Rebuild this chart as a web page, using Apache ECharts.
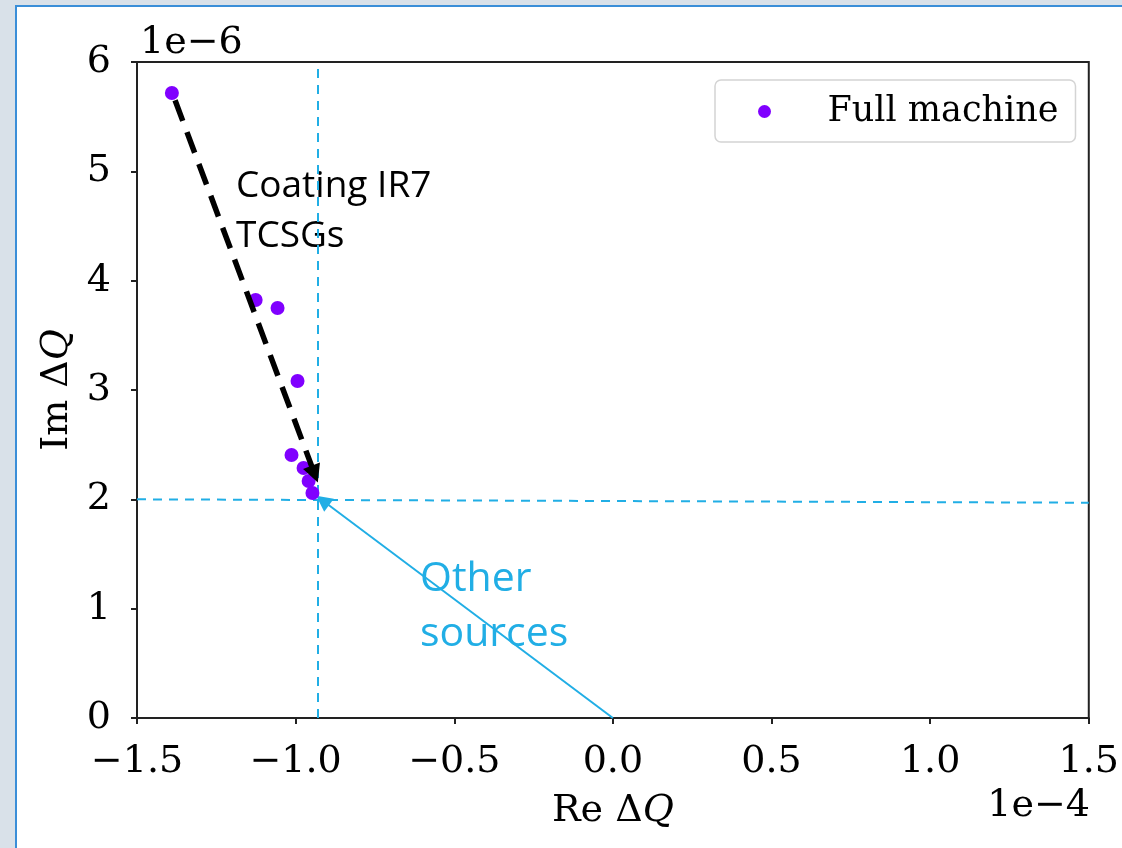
<!DOCTYPE html>
<html>
<head>
<meta charset="utf-8">
<script src="https://cdn.jsdelivr.net/npm/echarts@6/dist/echarts.min.js"></script>
<style>
  html, body { margin: 0; padding: 0; width: 1122px; height: 848px; overflow: hidden; background: #d9e1e9; }
  #panel { position: absolute; left: 15px; top: 5px; right: 0; bottom: 0; background: #ffffff;
           border-left: 2px solid #3a8ed8; border-top: 2px solid #3a8ed8; }
  #chart { position: absolute; left: 0; top: 0; width: 1122px; height: 848px; }
</style>
</head>
<body>
<div id="panel"></div>
<div id="chart"></div>
<script>
// Tune shift of the full machine, Re in units of 1e-4, Im in units of 1e-6
const reDQ = [-1.390, -1.126, -1.057, -0.994, -1.013, -0.975, -0.959, -0.947];
const imDQ = [5.717, 3.823, 3.750, 3.082, 2.406, 2.287, 2.168, 2.058];

// Axis ranges and ticks
const xRange = [-1.5, 1.5], xStep = 0.5;
const yRange = [0, 6], yStep = 1;

// Reference level of the other impedance sources
const otherRe = -0.93;
const otherImLeft = 2.0, otherImRight = 1.969;

// Arrows: coating contribution and other sources
const coatingArrow = [[-1.380, 5.65], [-0.940, 2.23]];
const otherArrow = [[0.0, 0.0], [-0.915, 1.99]];

const serif = 'DejaVu Serif';
const fs = 38;
const blue = '#21aee5';
const purple = '#8000ff';
const fmt = v => v.toFixed(1).replace('-', '\u2212');

const chart = echarts.init(document.getElementById('chart'), null, { renderer: 'canvas' });

const axisName = {
  rich: {
    a: { fontFamily: serif, fontSize: fs, color: '#000' },
    b: { fontFamily: serif, fontSize: fs, color: '#000', fontStyle: 'italic' }
  }
};

chart.setOption({
  animation: false,
  backgroundColor: 'transparent',
  grid: { left: 137, right: 31, top: 62, bottom: 130, show: true, borderColor: '#222', borderWidth: 2, backgroundColor: 'transparent' },
  legend: {
    left: 715, top: 80,
    padding: [14, 17, 13, 43],
    backgroundColor: '#fff',
    borderColor: '#d4d4d4', borderWidth: 1.5, borderRadius: 6,
    icon: 'circle', itemWidth: 84, itemHeight: 13,
    itemStyle: { color: purple, opacity: 1 },
    textStyle: { fontFamily: serif, fontSize: 35, color: '#000', padding: [0, 0, 0, 16] },
    data: ['Full machine']
  },
  xAxis: {
    type: 'value', min: xRange[0], max: xRange[1], interval: xStep,
    name: '{a|Re \u0394}{b|Q}', nameLocation: 'middle', nameGap: 74,
    nameTextStyle: axisName,
    axisLine: { onZero: false, lineStyle: { color: '#222', width: 2 } },
    axisTick: { show: true, inside: false, length: 6, lineStyle: { color: '#222', width: 2 } },
    axisLabel: { formatter: fmt, fontFamily: serif, fontSize: fs, color: '#000', margin: 25 },
    splitLine: { show: false }
  },
  yAxis: {
    type: 'value', min: yRange[0], max: yRange[1], interval: yStep,
    name: '{a|Im \u0394}{b|Q}', nameLocation: 'middle', nameGap: 61, nameRotate: 90,
    nameTextStyle: axisName,
    axisLine: { onZero: false, lineStyle: { color: '#222', width: 2 } },
    axisTick: { show: true, inside: false, length: 6, lineStyle: { color: '#222', width: 2 } },
    axisLabel: { formatter: v => String(v), fontFamily: serif, fontSize: fs, color: '#000', margin: 26 },
    splitLine: { show: false }
  },
  series: [
    {
      name: 'ref-lines', type: 'lines', coordinateSystem: 'cartesian2d', silent: true, z: 1,
      lineStyle: { color: blue, width: 2, type: [9, 7], opacity: 1 },
      symbol: 'none',
      data: [
        { coords: [[otherRe, yRange[0]], [otherRe, yRange[1]]] },
        { coords: [[xRange[0], otherImLeft], [xRange[1], otherImRight]] }
      ]
    },
    {
      name: 'other-arrow', type: 'lines', coordinateSystem: 'cartesian2d', silent: true, z: 3,
      lineStyle: { color: blue, width: 2, opacity: 1 },
      symbol: ['none', 'triangle'], symbolSize: 16,
      data: [{ coords: otherArrow }]
    },
    {
      name: 'Full machine', type: 'scatter', symbol: 'circle', symbolSize: 14, z: 4,
      itemStyle: { color: purple, opacity: 1 },
      data: reDQ.map((x, i) => [x, imDQ[i]])
    },
    {
      name: 'coating-arrow', type: 'lines', coordinateSystem: 'cartesian2d', silent: true, z: 5,
      lineStyle: { color: '#000', width: 5.5, type: [22, 12], opacity: 1 },
      symbol: ['none', 'triangle'], symbolSize: 18,
      data: [{ coords: coatingArrow }]
    }
  ],
  graphic: [
    { type: 'text', left: 140, top: 24, style: { text: '1e\u22126', font: fs + 'px "DejaVu Serif"', fill: '#000' } },
    { type: 'text', right: 32, top: 787, style: { text: '1e\u22124', font: fs + 'px "DejaVu Serif"', fill: '#000' } },
    { type: 'text', x: 236, y: 186, style: { text: 'Coating IR7', font: '37px "Open Sans"', fill: '#000', verticalAlign: 'middle' } },
    { type: 'text', x: 236, y: 236, style: { text: 'TCSGs', font: '37px "Open Sans"', fill: '#000', verticalAlign: 'middle' } },
    { type: 'text', x: 420, y: 579, style: { text: 'Other', font: '41px "Open Sans"', fill: blue, verticalAlign: 'middle' } },
    { type: 'text', x: 420, y: 634, style: { text: 'sources', font: '41px "Open Sans"', fill: blue, verticalAlign: 'middle' } }
  ]
});
</script>
</body>
</html>
